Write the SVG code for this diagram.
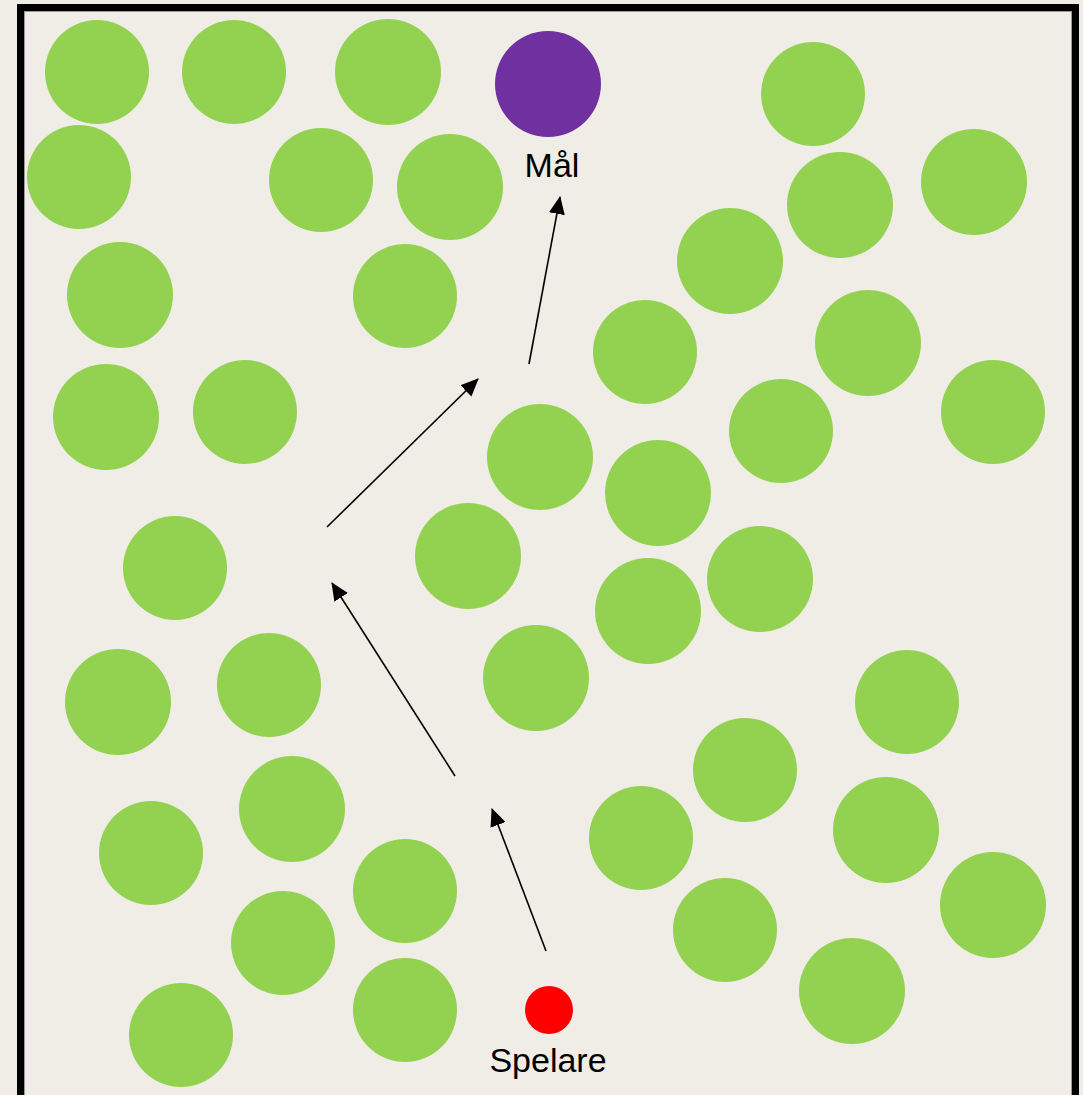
<svg xmlns="http://www.w3.org/2000/svg" width="1083" height="1095" viewBox="0 0 1083 1095">
<defs>
<style>
.g{fill:#93D150}
.lbl{font-family:"Liberation Sans",Arial,sans-serif;font-size:34px;fill:#000;text-anchor:middle}
.arr{stroke:#000;stroke-width:1.6;fill:none;marker-end:url(#ah)}
</style>
<marker id="ah" markerUnits="userSpaceOnUse" markerWidth="18" markerHeight="16" viewBox="0 0 18 16" refX="17" refY="8" orient="auto">
<path d="M0,0 L18,8 L0,16 Z" fill="#000"/>
</marker>
</defs>
<rect x="0" y="0" width="1083" height="1095" fill="#EFEDE5"/>
<rect x="20.5" y="7.5" width="1055" height="1100" fill="#EFEDE5" stroke="#000" stroke-width="7"/>
<rect x="24.5" y="11.5" width="1047" height="1090" fill="none" stroke="#9a9a94" stroke-width="1"/>
<g id="obstacles">
<circle class="g" cx="97" cy="72" r="52"/>
<circle class="g" cx="234" cy="72" r="52"/>
<circle class="g" cx="388" cy="72" r="53"/>
<circle class="g" cx="813" cy="94" r="52"/>
<circle class="g" cx="79" cy="177" r="52"/>
<circle class="g" cx="321" cy="180" r="52"/>
<circle class="g" cx="450" cy="187" r="53"/>
<circle class="g" cx="840" cy="205" r="53"/>
<circle class="g" cx="974" cy="182" r="53"/>
<circle class="g" cx="120" cy="295" r="53"/>
<circle class="g" cx="405" cy="296" r="52"/>
<circle class="g" cx="730" cy="261" r="53"/>
<circle class="g" cx="645" cy="352" r="52"/>
<circle class="g" cx="868" cy="343" r="53"/>
<circle class="g" cx="106" cy="417" r="53"/>
<circle class="g" cx="245" cy="412" r="52"/>
<circle class="g" cx="540" cy="457" r="53"/>
<circle class="g" cx="781" cy="431" r="52"/>
<circle class="g" cx="993" cy="412" r="52"/>
<circle class="g" cx="658" cy="493" r="53"/>
<circle class="g" cx="175" cy="568" r="52"/>
<circle class="g" cx="468" cy="556" r="53"/>
<circle class="g" cx="760" cy="579" r="53"/>
<circle class="g" cx="648" cy="611" r="53"/>
<circle class="g" cx="536" cy="678" r="53"/>
<circle class="g" cx="118" cy="702" r="53"/>
<circle class="g" cx="269" cy="685" r="52"/>
<circle class="g" cx="907" cy="702" r="52"/>
<circle class="g" cx="745" cy="770" r="52"/>
<circle class="g" cx="292" cy="809" r="53"/>
<circle class="g" cx="641" cy="838" r="52"/>
<circle class="g" cx="886" cy="830" r="53"/>
<circle class="g" cx="151" cy="853" r="52"/>
<circle class="g" cx="405" cy="891" r="52"/>
<circle class="g" cx="283" cy="943" r="52"/>
<circle class="g" cx="993" cy="905" r="53"/>
<circle class="g" cx="725" cy="930" r="52"/>
<circle class="g" cx="405" cy="1010" r="52"/>
<circle class="g" cx="852" cy="991" r="53"/>
<circle class="g" cx="181" cy="1035" r="52"/>
</g>
<g id="goal">
<circle cx="548" cy="84" r="53" fill="#7030A0"/>
<text class="lbl" x="552" y="177">Mål</text>
</g>
<g id="player">
<circle cx="549" cy="1010" r="24" fill="#FF0000"/>
<text class="lbl" x="548" y="1072">Spelare</text>
</g>
<g id="connectors">
<line class="arr" x1="546" y1="951" x2="492" y2="809"/>
<line class="arr" x1="455" y1="776" x2="332" y2="583"/>
<line class="arr" x1="327" y1="527" x2="478" y2="379"/>
<line class="arr" x1="529" y1="364" x2="560" y2="197"/>
</g>
</svg>
